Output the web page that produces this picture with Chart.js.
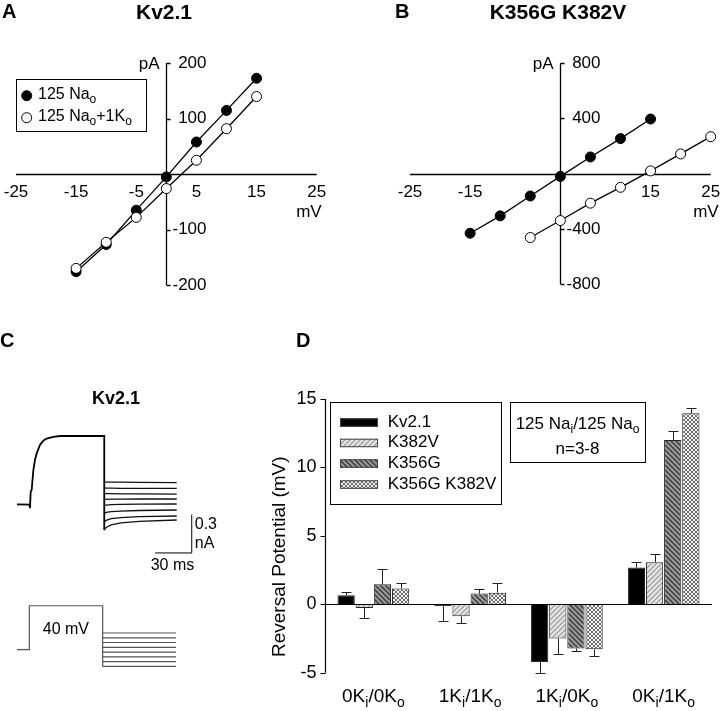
<!DOCTYPE html>
<html>
<head>
<meta charset="utf-8">
<script src="https://cdn.jsdelivr.net/npm/chart.js@4.4.1/dist/chart.umd.min.js"></script>
<style>
  body { margin: 0; background: #fff; }
  #fig { position: relative; width: 720px; height: 711px; overflow: hidden;
         font-family: "Liberation Sans", Arial, Helvetica, sans-serif; color: #000; }
  #fig canvas { position: absolute; }
  .lbl { position: absolute; font-weight: bold; line-height: 1; white-space: nowrap; }
</style>
</head>
<body>
<div id="fig">
  <canvas id="chartA" width="360" height="300" style="left:0;top:0"></canvas>
  <canvas id="chartB" width="360" height="300" style="left:360px;top:0"></canvas>
  <canvas id="chartC" width="260" height="411" style="left:0;top:300px"></canvas>
  <canvas id="chartD" width="460" height="411" style="left:260px;top:300px"></canvas>

  <div class="lbl" style="left:2px;top:1px;font-size:20px">A</div>
  <div class="lbl" style="left:64px;top:1px;width:200px;text-align:center;font-size:21px">Kv2.1</div>
  <div class="lbl" style="left:395px;top:1px;font-size:20px">B</div>
  <div class="lbl" style="left:458px;top:1px;width:200px;text-align:center;font-size:21px">K356G K382V</div>
  <div class="lbl" style="left:0;top:330px;font-size:20px">C</div>
  <div class="lbl" style="left:56px;top:389px;width:120px;text-align:center;font-size:18px">Kv2.1</div>
  <div class="lbl" style="left:296px;top:330px;font-size:20px">D</div>
</div>

<script>
const FONT = '"Liberation Sans", Arial, Helvetica, sans-serif';

// ---- A: Kv2.1 I-V (mV, pA)
const voltsA = [-15, -10, -5, 0, 5, 10, 15];
const naA = [-176, -127, -65, -5, 58, 115, 173];
const naKA = [-170, -123, -78, -26, 25, 82, 140];
const xTicksA = [-25, -15, -5, 5, 15, 25];
const yTicksA = [-200, -100, 100, 200];
const legendA = ['125 Na_o', '125 Na_o+1K_o'];

// ---- B: K356G K382V I-V
const voltsBNa = [-15, -10, -5, 0, 5, 10, 15];
const naB = [-432, -306, -162, -20, 121, 254, 396];
const voltsBNaK = [-5, 0, 5, 10, 15, 20, 25];
const naKB = [-463, -340, -214, -99, 20, 143, 268];
const xTicksB = [-25, -15, 15, 25];
const yTicksB = [-800, -400, 400, 800];

// ---- C: current traces (ms, nA) and voltage protocol (mV, schematic)
const traceTime = [0, 10.2, 10.6, 11.2, 12.0, 13.4, 14.7, 16.1, 18.8, 21.5, 24.3, 29.7, 35.2, 71.4, 71.4];
const traceCurrent = [0.005, 0.003, -0.025, 0.104, 0.117, 0.274, 0.352, 0.404, 0.47, 0.503, 0.52, 0.534, 0.54, 0.54, -0.196];
const tailTime = [71.4, 73, 77, 85, 100, 130.7];
const tailCurrents = [
  [0.18, 0.18, 0.18, 0.179, 0.178, 0.176],
  [0.135, 0.133, 0.132, 0.131, 0.13, 0.13],
  [0.09, 0.09, 0.089, 0.088, 0.087, 0.086],
  [0.045, 0.045, 0.046, 0.046, 0.047, 0.047],
  [-0.002, 0.0, 0.003, 0.005, 0.007, 0.008],
  [-0.065, -0.058, -0.052, -0.047, -0.043, -0.039],
  [-0.135, -0.12, -0.107, -0.098, -0.091, -0.086],
  [-0.196, -0.175, -0.155, -0.14, -0.128, -0.117]
];
const scaleBarTime = [113, 143, 143];
const scaleBarCurrent = [-0.375, -0.375, -0.075];
const protocolTime = [0, 10.1, 10.1, 70.1, 70.1];
const protocolLevels = [-4, -4, 40, 40, -20.7];
const protocolTailTime = [70.1, 130.1];
const protocolTailLevels = [12.7, 7.9, 3.2, -1.6, -6.4, -11.2, -16.0, -20.7];

// ---- D: reversal potentials (mV)
const conditions = ['0K_i/0K_o', '1K_i/1K_o', '1K_i/0K_o', '0K_i/1K_o'];
const constructs = ['Kv2.1', 'K382V', 'K356G', 'K356G K382V'];
const kv21 = [0.66, -0.15, -4.22, 2.68];
const k382v = [-0.27, -0.88, -2.51, 3.07];
const k356g = [1.46, 0.78, -3.24, 12.0];
const k356gK382v = [1.15, 0.85, -3.29, 13.95];
const kv21Sem = [0.24, 1.07, 0.8, 0.42];
const k382vSem = [0.71, 0.46, 1.1, 0.64];
const k356gSem = [1.15, 0.34, 0.2, 0.66];
const k356gK382vSem = [0.44, 0.74, 0.51, 0.37];
const yTicksD = [-5, 0, 5, 10, 15];
const infoD = ['125 Na_i/125 Na_o', 'n=3-8'];

const pts = (xs, ys) => xs.map((v, i) => ({ x: v, y: ys[i] }));

// text with one-letter subscripts written as "_x"
function drawRich(ctx, text, x, y, size, align) {
  const parts = [];
  for (let i = 0; i < text.length; i++) {
    if (text[i] === '_') { parts.push({ t: text[i + 1], sub: true }); i++; continue; }
    const last = parts[parts.length - 1];
    if (last && !last.sub) last.t += text[i]; else parts.push({ t: text[i], sub: false });
  }
  const base = size + 'px ' + FONT;
  const small = Math.round(size * 0.72) + 'px ' + FONT;
  let w = 0;
  parts.forEach(p => { ctx.font = p.sub ? small : base; p.w = ctx.measureText(p.t).width; w += p.w; });
  let cx = align === 'center' ? x - w / 2 : align === 'right' ? x - w : x;
  ctx.textAlign = 'left';
  ctx.textBaseline = 'middle';
  parts.forEach(p => {
    ctx.font = p.sub ? small : base;
    ctx.fillText(p.t, cx, p.sub ? y + size * 0.32 : y);
    cx += p.w;
  });
}

function crossAxes(xTicks, yTicks, unitGap) {
  return {
    id: 'crossAxes',
    beforeDatasetsDraw(chart) {
      const { ctx, scales: { x, y } } = chart;
      const x0 = Math.round(x.getPixelForValue(0)) + 0.5;
      const y0 = Math.round(y.getPixelForValue(0)) + 0.5;
      ctx.save();
      ctx.strokeStyle = '#000';
      ctx.lineWidth = 1.3;
      ctx.beginPath();
      ctx.moveTo(x.getPixelForValue(x.min), y0);
      ctx.lineTo(x.getPixelForValue(x.max), y0);
      ctx.moveTo(x0, y.getPixelForValue(y.max));
      ctx.lineTo(x0, y.getPixelForValue(y.min));
      yTicks.forEach(v => {
        const py = Math.round(y.getPixelForValue(v)) + 0.5;
        ctx.moveTo(x0, py); ctx.lineTo(x0 + 4, py);
      });
      ctx.stroke();
      ctx.fillStyle = '#000';
      ctx.font = '17px ' + FONT;
      ctx.textBaseline = 'middle';
      ctx.textAlign = 'center';
      xTicks.forEach(v => ctx.fillText(String(v), x.getPixelForValue(v), y0 + 18));
      ctx.textAlign = 'right';
      yTicks.forEach(v => ctx.fillText(String(v), x0 + 40, y.getPixelForValue(v)));
      ctx.fillText('pA', x0 - 7, y.getPixelForValue(y.max) + 1);
      ctx.fillText('mV', x.getPixelForValue(x.max) + unitGap, y0 + 38);
      ctx.restore();
    }
  };
}

function ivSeries(data, fill) {
  return {
    data, showLine: true, borderColor: '#000', borderWidth: 1.3, tension: 0,
    pointRadius: 5, pointBorderWidth: 1, pointBorderColor: '#000',
    pointBackgroundColor: fill, clip: false
  };
}

function ivOptions(xr, yr, pad) {
  return {
    responsive: false, animation: false, events: [],
    layout: { padding: pad },
    plugins: { legend: { display: false }, tooltip: { enabled: false } },
    scales: {
      x: { type: 'linear', display: false, min: xr[0], max: xr[1] },
      y: { type: 'linear', display: false, min: yr[0], max: yr[1] }
    }
  };
}

const legendAPlugin = {
  id: 'legendA',
  afterDraw(chart) {
    const ctx = chart.ctx;
    ctx.save();
    ctx.strokeStyle = '#000';
    ctx.lineWidth = 1;
    ctx.strokeRect(16.5, 79.5, 130, 52);
    [['#000', 95.7], ['#fff', 117.7]].forEach(([fill, cy], i) => {
      ctx.beginPath();
      ctx.arc(26.7, cy, 5, 0, Math.PI * 2);
      ctx.fillStyle = fill; ctx.fill(); ctx.stroke();
      ctx.fillStyle = '#000';
      drawRich(ctx, legendA[i], 38, cy - 1, 16, 'left');
    });
    ctx.restore();
  }
};

// open circles first so they sit on top, as in the figure
new Chart(document.getElementById('chartA'), {
  type: 'scatter',
  data: { datasets: [ivSeries(pts(voltsA, naKA), '#fff'), ivSeries(pts(voltsA, naA), '#000')] },
  options: ivOptions([-25, 25], [-200, 200], { left: 16, right: 43.3, top: 63.3, bottom: 15 }),
  plugins: [crossAxes(xTicksA, yTicksA, 5), legendAPlugin]
});

new Chart(document.getElementById('chartB'), {
  type: 'scatter',
  data: { datasets: [ivSeries(pts(voltsBNaK, naKB), '#fff'), ivSeries(pts(voltsBNa, naB), '#000')] },
  options: ivOptions([-25, 25], [-800, 800], { left: 50, right: 9.3, top: 63.3, bottom: 16 }),
  plugins: [crossAxes(xTicksB, yTicksB, 8)]
});

// ---- C
function traceSet(data, axis, color, width) {
  return { data, yAxisID: axis, showLine: true, borderColor: color, borderWidth: width,
           pointRadius: 0, tension: 0, clip: false };
}
const cSets = [traceSet(pts(traceTime, traceCurrent), 'yI', '#000', 1.8)];
tailCurrents.forEach(t => cSets.push(traceSet(pts(tailTime, t), 'yI', '#111', 1.3)));
cSets.push(traceSet(pts(scaleBarTime, scaleBarCurrent), 'yI', '#000', 1));
cSets.push(traceSet(pts(protocolTime, protocolLevels), 'yV', '#555', 1.2));
protocolTailLevels.forEach(v => cSets.push(traceSet(pts(protocolTailTime, [v, v]), 'yV', '#555', 1.2)));

const traceLabels = {
  id: 'traceLabels',
  afterDatasetsDraw(chart) {
    const { ctx, scales: { x, yI, yV } } = chart;
    ctx.save();
    ctx.fillStyle = '#000';
    ctx.font = '16px ' + FONT;
    ctx.textBaseline = 'middle';
    ctx.textAlign = 'left';
    const bx = x.getPixelForValue(scaleBarTime[2]) + 3;
    ctx.fillText('0.3', bx, yI.getPixelForValue(-0.15));
    ctx.fillText('nA', bx, yI.getPixelForValue(-0.305));
    ctx.textAlign = 'center';
    ctx.fillText('30 ms', x.getPixelForValue(127.2), yI.getPixelForValue(-0.477));
    ctx.fillText('40 mV', x.getPixelForValue(40), yV.getPixelForValue(15.7));
    ctx.restore();
  }
};

new Chart(document.getElementById('chartC'), {
  type: 'scatter',
  data: { datasets: cSets },
  options: {
    responsive: false, animation: false, events: [],
    layout: { padding: { left: 17, right: 59.7, top: 102.8, bottom: 14.3 } },
    plugins: { legend: { display: false }, tooltip: { enabled: false } },
    scales: {
      x: { type: 'linear', display: false, min: 0, max: 150 },
      y: { display: false },
      yI: { axis: 'y', type: 'linear', display: false, min: -1.5, max: 0.8 },
      yV: { axis: 'y', type: 'linear', display: false, min: -51, max: 243 }
    }
  },
  plugins: [traceLabels]
});

// ---- D
function hatch(bg, fg, dir, lw) {
  const c = document.createElement('canvas');
  c.width = c.height = 5;
  const g = c.getContext('2d');
  g.fillStyle = bg; g.fillRect(0, 0, 5, 5);
  g.strokeStyle = fg; g.lineWidth = lw;
  g.beginPath();
  if (dir > 0) {
    g.moveTo(-1, 6); g.lineTo(6, -1);
    g.moveTo(-1, 1); g.lineTo(1, -1);
    g.moveTo(4, 6); g.lineTo(6, 4);
  } else {
    g.moveTo(-1, -1); g.lineTo(6, 6);
    g.moveTo(4, -1); g.lineTo(6, 1);
    g.moveTo(-1, 4); g.lineTo(1, 6);
  }
  g.stroke();
  return g.createPattern(c, 'repeat');
}
function checker() {
  const c = document.createElement('canvas');
  c.width = c.height = 4;
  const g = c.getContext('2d');
  g.fillStyle = '#f2f2f2'; g.fillRect(0, 0, 4, 4);
  g.strokeStyle = '#6e6e6e'; g.lineWidth = 1;
  g.beginPath();
  g.moveTo(0, 0); g.lineTo(4, 4);
  g.moveTo(4, 0); g.lineTo(0, 4);
  g.stroke();
  return g.createPattern(c, 'repeat');
}
const fills = ['#000', hatch('#e4e4e4', '#959595', 1, 1.1), hatch('#9c9c9c', '#3c3c3c', -1, 1.5), checker()];
const values = [kv21, k382v, k356g, k356gK382v];
const sems = [kv21Sem, k382vSem, k356gSem, k356gK382vSem];

const barExtras = {
  id: 'barExtras',
  afterDatasetsDraw(chart) {
    const { ctx, chartArea: a, scales: { x, y } } = chart;
    ctx.save();
    // one-sided error bars
    ctx.strokeStyle = '#222';
    ctx.lineWidth = 1;
    chart.data.datasets.forEach((ds, di) => {
      chart.getDatasetMeta(di).data.forEach((bar, i) => {
        const v = ds.data[i];
        const end = v >= 0 ? v + sems[di][i] : v - sems[di][i];
        const px = Math.round(bar.x) + 0.5;
        const py = Math.round(y.getPixelForValue(end)) + 0.5;
        ctx.beginPath();
        ctx.moveTo(px, y.getPixelForValue(v));
        ctx.lineTo(px, py);
        ctx.moveTo(px - 5, py); ctx.lineTo(px + 5, py);
        ctx.stroke();
      });
    });
    // axes
    const left = Math.round(a.left) + 0.5;
    const y0 = Math.round(y.getPixelForValue(0)) + 0.5;
    ctx.strokeStyle = '#000';
    ctx.lineWidth = 1.2;
    ctx.beginPath();
    ctx.moveTo(left, y.getPixelForValue(y.max));
    ctx.lineTo(left, y.getPixelForValue(y.min));
    ctx.moveTo(left, y0); ctx.lineTo(a.right, y0);
    yTicksD.forEach(v => {
      const py = Math.round(y.getPixelForValue(v)) + 0.5;
      ctx.moveTo(left - 5, py); ctx.lineTo(left, py);
    });
    ctx.stroke();
    ctx.fillStyle = '#000';
    ctx.font = '18px ' + FONT;
    ctx.textAlign = 'right';
    ctx.textBaseline = 'middle';
    yTicksD.forEach(v => ctx.fillText(String(v), left - 9, y.getPixelForValue(v)));
    conditions.forEach((c, i) => drawRich(ctx, c, x.getPixelForValue(i), a.bottom + 24, 19, 'center'));
    ctx.save();
    ctx.translate(20, 256.7);
    ctx.rotate(-Math.PI / 2);
    ctx.textAlign = 'center';
    ctx.font = '19px ' + FONT;
    ctx.fillText('Reversal Potential (mV)', 0, 0);
    ctx.restore();
    // legend
    ctx.lineWidth = 1;
    ctx.strokeRect(70.5, 102.5, 171, 102);
    const rows = [122.3, 142.7, 163.3, 184.3];
    constructs.forEach((name, i) => {
      ctx.fillStyle = fills[i];
      ctx.fillRect(80, rows[i] - 4, 38, 8.5);
      ctx.strokeStyle = '#444';
      ctx.strokeRect(80.5, rows[i] - 3.5, 37, 7.5);
      ctx.fillStyle = '#000';
      ctx.font = '17px ' + FONT;
      ctx.textAlign = 'left';
      ctx.fillText(name, 127.7, rows[i]);
    });
    // condition box
    ctx.strokeStyle = '#000';
    ctx.strokeRect(250.5, 102.5, 135, 60);
    drawRich(ctx, infoD[0], 317.5, 124, 17, 'center');
    drawRich(ctx, infoD[1], 317.5, 149, 17, 'center');
    ctx.restore();
  }
};

new Chart(document.getElementById('chartD'), {
  type: 'bar',
  data: {
    labels: conditions,
    datasets: constructs.map((name, i) => ({
      label: name, data: values[i], backgroundColor: fills[i],
      borderColor: '#222', borderWidth: 1,
      categoryPercentage: 0.75, barPercentage: 0.95
    }))
  },
  options: {
    responsive: false, animation: false, events: [],
    layout: { padding: { left: 65, right: 8, top: 99, bottom: 38.3 } },
    plugins: { legend: { display: false }, tooltip: { enabled: false } },
    scales: {
      x: { display: false },
      y: { display: false, min: -5, max: 15 }
    }
  },
  plugins: [barExtras]
});
</script>
</body>
</html>
